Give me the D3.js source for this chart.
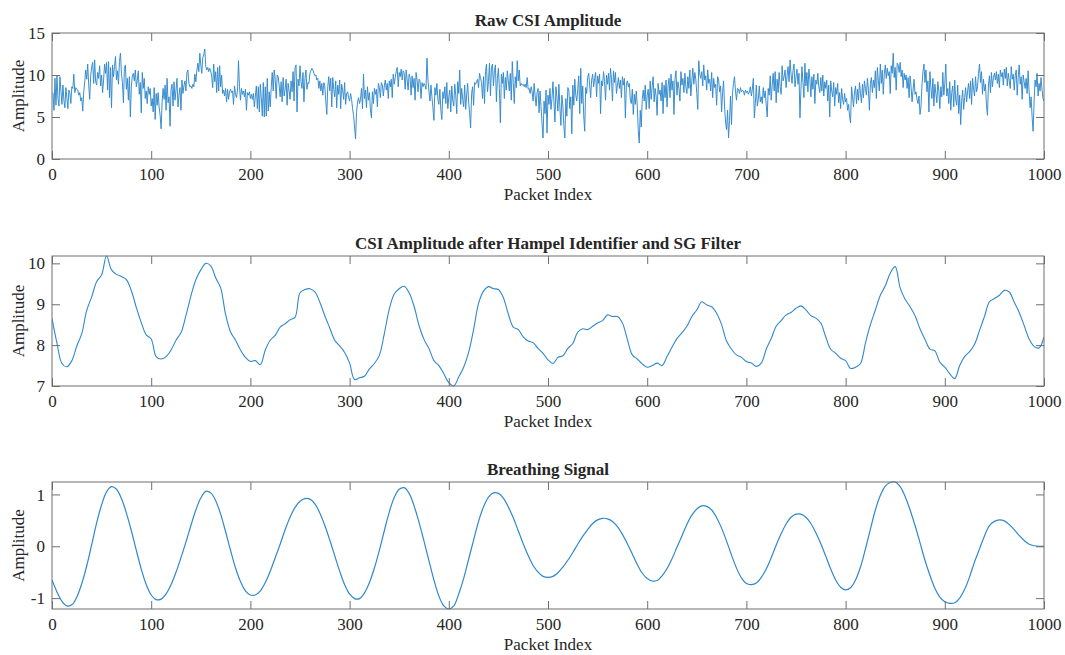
<!DOCTYPE html>
<html>
<head>
<meta charset="utf-8">
<script src="https://cdn.jsdelivr.net/npm/d3@7"></script>
<style>
  html, body { margin: 0; padding: 0; background: #fff; }
  svg { display: block; }
  text { font-family: "Liberation Serif", "Times New Roman", serif; fill: #262626; }
</style>
</head>
<body>
<svg id="chart" width="1065" height="655"></svg>
<script>
// Raw CSI amplitude, one value per packet (packets 1..1000)
const rawAmplitude = [
  7.9,5.8,9.6,6.4,9.9,7.2,6.3,9.8,8.1,6.5,8.8,7.0,6.1,8.5,7.3,6.0,8.2,7.8,6.6,8.6,
  8.4,10.1,7.9,8.5,8.3,8.2,7.6,7.9,6.9,7.3,5.7,8.0,9.2,10.6,9.5,11.3,8.8,7.1,9.9,11.0,
  11.5,9.0,11.8,9.2,8.8,10.3,9.6,11.1,8.7,10.0,7.9,9.4,11.3,10.2,11.5,8.2,11.6,7.3,10.9,6.1,
  11.2,9.8,11.0,12.2,9.4,10.5,8.9,11.6,12.6,10.2,9.1,6.7,10.8,11.2,8.3,9.6,7.0,9.8,5.0,8.7,
  9.9,10.2,9.3,10.6,8.6,9.4,10.5,7.7,9.1,5.5,10.3,8.4,9.6,7.2,8.1,6.6,8.6,7.7,8.4,6.3,
  7.2,5.6,8.5,4.7,7.8,6.4,7.9,6.2,5.2,3.6,6.8,8.4,7.1,8.8,5.8,9.6,6.7,7.4,3.9,8.3,
  8.9,6.3,9.2,7.0,8.2,9.6,6.2,7.6,8.5,5.8,9.4,7.8,8.7,9.3,8.1,10.3,10.6,9.0,8.6,8.7,
  8.4,8.9,8.6,10.1,9.2,10.5,11.4,10.4,12.6,11.2,10.2,12.1,12.4,13.1,11.0,10.6,10.9,10.4,10.8,10.5,
  9.8,8.5,11.3,9.2,10.4,7.9,10.9,8.1,11.1,8.6,10.0,7.8,8.2,7.5,8.4,6.8,8.3,7.1,8.0,8.3,
  7.9,8.1,6.5,8.7,7.7,7.3,8.2,11.7,8.6,7.0,8.4,7.7,8.1,7.4,8.3,5.8,7.9,7.6,8.0,7.2,
  7.7,7.1,7.8,6.2,7.5,8.7,6.0,8.6,5.6,8.9,7.3,5.1,9.1,5.0,8.6,5.1,9.6,5.7,8.0,6.2,
  8.5,10.3,8.1,10.6,9.5,7.2,10.0,9.8,8.8,7.4,9.2,6.8,9.7,7.5,8.3,9.5,6.4,9.0,8.1,7.1,
  9.3,8.0,10.4,6.9,10.9,11.2,5.6,9.5,8.7,11.1,9.2,8.4,10.3,6.8,9.6,10.6,8.3,9.1,9.0,10.2,
  10.5,10.8,10.6,10.2,9.9,10.0,9.4,9.6,8.4,9.3,8.1,9.0,7.6,9.1,8.7,6.9,5.3,8.6,9.8,8.1,
  9.6,6.2,9.7,8.3,7.4,9.3,6.1,8.8,7.7,9.4,6.0,8.9,8.2,7.1,9.1,6.5,7.8,8.0,7.3,6.9,
  7.8,7.1,6.0,5.2,3.8,2.4,5.5,6.8,7.3,6.6,7.1,8.4,6.0,10.1,7.2,8.2,6.1,8.6,7.0,7.9,
  5.9,4.9,8.0,6.6,8.4,7.7,8.3,6.2,9.0,8.5,7.3,9.1,8.8,7.5,8.7,9.4,8.2,9.0,7.2,9.3,
  8.6,9.5,7.3,10.1,8.9,9.7,10.4,10.9,8.6,10.3,9.8,10.7,9.4,10.5,10.2,8.3,10.6,9.5,8.2,10.1,
  9.7,7.6,9.9,8.5,9.6,7.0,10.3,9.4,8.0,9.5,9.3,7.2,9.1,8.6,9.0,8.8,8.3,12.0,9.4,8.1,
  6.9,8.8,7.4,6.1,4.6,8.5,7.6,9.0,7.1,6.5,8.3,5.8,4.7,8.0,7.2,8.6,6.6,9.1,6.0,7.4,
  8.2,5.6,8.7,7.0,6.3,8.9,7.6,5.4,9.2,7.8,10.6,6.5,8.4,7.1,6.2,8.8,5.9,7.5,9.0,6.8,
  5.4,3.7,7.8,8.6,6.4,9.1,8.9,9.2,9.5,8.5,10.2,9.6,9.1,7.2,9.8,6.6,10.4,11.3,8.0,9.2,
  11.4,7.5,10.9,11.3,8.7,10.5,11.2,6.8,9.6,10.8,8.4,4.3,10.1,9.0,10.3,7.2,9.7,8.2,10.5,9.3,
  8.1,10.2,7.0,11.6,9.1,6.6,9.8,8.5,11.7,9.3,10.6,8.7,9.0,8.8,8.9,8.6,8.9,8.5,9.7,8.3,
  8.4,7.8,8.6,8.0,6.9,9.0,7.6,6.3,7.9,8.4,5.5,8.1,6.2,4.2,2.5,6.9,5.4,8.2,3.1,7.6,
  6.5,8.4,5.9,7.2,9.2,6.8,4.4,8.6,7.3,5.7,8.9,6.1,4.0,7.6,6.3,3.9,2.5,7.2,5.1,8.5,
  8.2,6.0,7.4,3.0,8.8,6.4,9.5,7.6,6.9,8.3,9.9,5.4,10.8,6.6,8.7,5.2,3.3,8.5,7.8,9.7,
  10.2,8.8,7.3,9.4,10.1,8.6,9.6,10.3,7.4,9.9,9.0,10.1,5.4,9.3,8.7,10.4,9.2,7.0,10.0,8.9,
  10.2,8.2,10.8,9.5,6.9,10.5,9.1,10.3,7.8,8.8,9.7,8.4,9.4,7.3,9.8,8.8,9.6,4.9,8.9,9.3,
  8.6,9.0,7.0,6.6,8.3,5.3,7.7,6.5,8.1,6.3,3.4,1.9,5.8,3.8,7.1,8.2,6.9,8.8,5.9,7.6,
  8.3,6.0,9.3,7.1,8.6,9.8,6.8,8.4,7.5,5.2,9.0,7.7,8.2,6.9,9.1,5.4,8.8,7.3,9.4,6.2,
  8.7,9.6,7.3,10.1,8.2,9.3,5.3,9.5,10.5,7.6,9.2,8.4,6.9,10.4,8.8,9.6,7.9,10.2,8.6,7.8,
  9.8,8.4,10.6,7.5,9.3,10.8,8.9,10.3,9.5,7.8,5.9,11.7,10.1,9.6,10.4,8.7,11.2,9.4,9.9,8.2,
  10.6,9.0,9.5,8.1,10.3,7.3,9.6,8.5,8.9,6.4,9.8,9.4,8.0,8.7,5.6,7.9,9.3,6.2,4.4,3.5,
  5.8,2.5,4.6,7.5,4.1,7.9,9.0,9.8,8.1,7.0,8.4,8.3,7.8,8.5,8.0,8.2,8.1,7.6,8.2,7.9,
  8.1,7.7,8.0,8.6,7.5,8.3,9.6,4.9,6.6,8.8,6.3,7.1,8.7,6.8,7.4,6.6,8.5,7.3,8.1,6.4,
  5.0,8.4,7.6,9.9,7.0,8.8,10.2,8.1,10.4,6.7,9.5,7.9,10.3,8.6,7.7,11.1,9.3,9.8,10.6,8.5,
  9.9,11.0,9.2,11.8,10.1,9.0,10.5,11.3,8.6,9.8,10.7,8.9,10.2,4.9,8.4,11.0,9.1,7.3,11.4,8.7,
  10.3,8.0,10.7,9.5,7.4,9.8,8.3,10.1,6.6,9.4,8.9,10.2,8.6,7.9,9.7,8.1,10.0,7.5,9.2,8.4,
  9.4,6.9,8.8,5.0,9.3,8.1,7.4,9.1,6.3,8.5,7.7,9.0,6.7,7.9,6.0,8.4,7.1,6.5,7.8,6.8,
  7.2,5.8,6.5,5.1,4.3,8.6,7.4,6.2,8.0,8.7,6.6,8.3,7.0,9.1,7.8,6.7,8.9,7.3,9.3,8.4,
  7.6,9.6,8.2,5.8,9.0,9.7,7.9,9.4,8.5,10.5,7.2,10.9,9.3,8.1,11.3,9.0,10.6,7.7,10.1,11.2,
  9.6,10.8,9.9,10.4,7.8,11.1,10.2,12.6,9.7,10.9,8.2,11.4,11.2,10.3,11.5,9.8,10.6,8.5,10.2,9.4,
  10.0,8.4,9.7,7.3,9.9,8.6,6.8,8.2,9.5,7.7,8.0,7.1,6.6,7.5,5.3,6.2,8.8,10.4,11.3,9.1,
  10.6,8.0,9.3,5.6,10.4,8.5,7.2,9.6,6.3,8.9,7.8,6.7,9.2,8.1,6.0,8.6,7.4,10.3,7.6,9.0,
  11.3,7.5,8.4,6.6,9.2,5.8,7.9,8.7,6.2,9.4,7.0,6.4,8.8,5.4,7.6,4.1,6.9,8.2,5.9,7.3,
  8.5,6.8,8.1,9.0,7.2,9.3,6.5,9.6,8.3,7.5,9.8,8.0,8.6,10.2,11.3,9.1,10.4,7.7,9.5,8.1,
  8.9,6.4,5.2,8.8,9.9,7.9,10.3,8.6,9.7,10.2,9.4,10.4,9.0,10.1,8.5,10.6,9.8,10.3,8.8,10.7,
  9.6,10.9,8.7,10.2,9.3,8.4,11.0,9.5,10.1,8.2,9.9,10.6,7.6,9.7,11.2,8.9,9.8,7.1,10.0,9.2,
  8.4,9.6,7.8,10.5,8.0,6.1,7.4,5.0,3.3,6.8,9.4,8.6,10.2,7.5,9.0,8.1,9.7,8.3,7.2,6.9
];

// Amplitude after Hampel identifier + Savitzky-Golay filter, every 5 packets (0..1000)
const filteredAmplitude = [
  8.65,8.05,7.55,7.47,7.62,7.98,8.28,8.85,9.18,9.55,
  9.72,10.18,9.84,9.73,9.68,9.6,9.33,8.92,8.55,8.25,
  8.15,7.72,7.66,7.72,7.88,8.12,8.3,8.72,9.2,9.6,
  9.84,10.0,9.94,9.65,9.4,8.75,8.32,8.12,7.88,7.7,
  7.6,7.62,7.52,7.88,8.12,8.24,8.44,8.52,8.62,8.68,
  9.28,9.36,9.38,9.3,9.05,8.72,8.42,8.12,7.98,7.82,
  7.56,7.16,7.2,7.24,7.42,7.55,7.75,8.28,8.88,9.25,
  9.38,9.44,9.28,8.95,8.48,8.14,7.92,7.62,7.5,7.3,
  7.08,7.0,7.22,7.46,7.82,8.38,9.02,9.32,9.43,9.38,
  9.36,9.16,8.76,8.44,8.38,8.2,8.1,8.06,7.92,7.8,
  7.64,7.55,7.7,7.74,7.92,8.04,8.32,8.4,8.38,8.46,
  8.54,8.6,8.74,8.7,8.7,8.54,8.14,7.76,7.66,7.54,
  7.46,7.5,7.56,7.5,7.72,7.95,8.16,8.3,8.46,8.7,
  8.86,9.06,8.98,8.94,8.78,8.5,8.1,7.9,7.76,7.7,
  7.6,7.56,7.48,7.56,7.9,8.16,8.46,8.6,8.74,8.8,
  8.9,8.96,8.86,8.72,8.66,8.54,8.2,7.9,7.8,7.68,
  7.62,7.43,7.46,7.55,8.05,8.5,8.86,9.22,9.45,9.76,
  9.92,9.4,9.12,8.94,8.72,8.4,8.14,7.9,7.86,7.58,
  7.46,7.3,7.18,7.5,7.72,7.84,8.02,8.36,8.7,9.06,
  9.14,9.22,9.34,9.3,9.05,8.8,8.48,8.15,7.97,7.93,
  8.2
];
const filteredStep = 5;

// Extracted breathing signal, every 5 packets (0..1000)
const breathingSignal = [
  -0.65,-0.88,-1.06,-1.15,-1.13,-0.98,-0.72,-0.38,0.03,0.45,
  0.80,1.05,1.15,1.10,0.92,0.64,0.30,-0.08,-0.44,-0.74,
  -0.94,-1.03,-1.02,-0.92,-0.74,-0.50,-0.22,0.08,0.40,0.70,
  0.93,1.06,1.03,0.88,0.62,0.28,-0.08,-0.42,-0.68,-0.86,
  -0.94,-0.94,-0.86,-0.70,-0.48,-0.22,0.04,0.32,0.56,0.75,
  0.87,0.92,0.91,0.82,0.64,0.40,0.12,-0.18,-0.48,-0.74,
  -0.92,-1.01,-1.01,-0.90,-0.70,-0.42,-0.08,0.30,0.66,0.94,
  1.10,1.13,1.02,0.78,0.46,0.10,-0.28,-0.65,-0.96,-1.15,
  -1.21,-1.15,-0.92,-0.62,-0.25,0.12,0.48,0.76,0.95,1.03,
  1.02,0.93,0.76,0.55,0.30,0.05,-0.18,-0.37,-0.50,-0.58,
  -0.60,-0.58,-0.51,-0.40,-0.27,-0.12,0.04,0.19,0.32,0.44,
  0.51,0.54,0.53,0.48,0.38,0.23,0.05,-0.15,-0.35,-0.52,
  -0.62,-0.67,-0.66,-0.57,-0.43,-0.24,-0.02,0.20,0.42,0.60,
  0.72,0.78,0.77,0.70,0.55,0.35,0.10,-0.17,-0.42,-0.61,
  -0.72,-0.74,-0.71,-0.60,-0.44,-0.22,0.02,0.24,0.43,0.56,
  0.62,0.62,0.56,0.44,0.26,0.05,-0.19,-0.44,-0.65,-0.79,
  -0.84,-0.80,-0.65,-0.40,-0.05,0.33,0.70,0.98,1.16,1.23,
  1.24,1.15,0.96,0.70,0.40,0.07,-0.27,-0.56,-0.81,-0.98,
  -1.07,-1.10,-1.09,-1.00,-0.83,-0.59,-0.30,-0.05,0.20,0.40,
  0.48,0.51,0.49,0.42,0.32,0.21,0.11,0.04,0.01,0.00,
  0.00
];
const breathingStep = 5;

const xTicks = [0, 100, 200, 300, 400, 500, 600, 700, 800, 900, 1000];
const rawYTicks = [0, 5, 10, 15];
const filteredYTicks = [7, 8, 9, 10];
const breathingYTicks = [-1, 0, 1];

const titles = ["Raw CSI Amplitude", "CSI Amplitude after Hampel Identifier and SG Filter", "Breathing Signal"];
const xLabel = "Packet Index";
const yLabel = "Amplitude";

// ---- drawing ----
const svg = d3.select("#chart");
const left = 52, right = 1044;
const lineColor = "#3088cc";
const frameColor = "#6f6f6f";
const tickLen = 8;
const fontSize = 17;
const plainNumber = d => String(d);

const panels = [
  { top: 33, bottom: 159, title: titles[0], yTicks: rawYTicks, yDomain: [0, 15],
    points: rawAmplitude.map((v, i) => [i + 1, v]), curve: d3.curveLinear, width: 0.95 },
  { top: 256, bottom: 386, title: titles[1], yTicks: filteredYTicks, yDomain: d3.extent(filteredAmplitude),
    points: filteredAmplitude.map((v, i) => [i * filteredStep, v]), curve: d3.curveCatmullRom, width: 1.1 },
  { top: 482, bottom: 609, title: titles[2], yTicks: breathingYTicks, yDomain: d3.extent(breathingSignal),
    points: breathingSignal.map((v, i) => [i * breathingStep, v]), curve: d3.curveCatmullRom, width: 1.2 }
];

const x = d3.scaleLinear().domain([0, 1000]).range([left, right]);
const midX = (left + right) / 2;

panels.forEach(p => {
  const y = d3.scaleLinear().domain(p.yDomain).range([p.bottom, p.top]);
  const g = svg.append("g");

  // clip to the axes box
  const clipId = "clip" + p.top;
  svg.append("clipPath").attr("id", clipId)
    .append("rect").attr("x", left).attr("y", p.top - 1)
    .attr("width", right - left).attr("height", p.bottom - p.top + 2);

  // data line
  g.append("path")
    .datum(p.points)
    .attr("clip-path", `url(#${clipId})`)
    .attr("fill", "none")
    .attr("stroke", lineColor)
    .attr("stroke-width", p.width)
    .attr("stroke-linejoin", "round")
    .attr("d", d3.line().x(d => x(d[0])).y(d => y(d[1])).curve(p.curve));

  // axes with inward ticks on all four sides
  const bottomAxis = d3.axisBottom(x).tickValues(xTicks).tickFormat(plainNumber)
    .tickSize(-tickLen).tickPadding(13).tickSizeOuter(0);
  const gb = g.append("g").attr("transform", `translate(0,${p.bottom})`).call(bottomAxis);
  const topAxis = d3.axisTop(x).tickValues(xTicks).tickSize(-tickLen).tickFormat("").tickSizeOuter(0);
  const gt = g.append("g").attr("transform", `translate(0,${p.top})`).call(topAxis);
  const leftAxis = d3.axisLeft(y).tickValues(p.yTicks).tickFormat(plainNumber)
    .tickSize(-tickLen).tickPadding(7).tickSizeOuter(0);
  const gl = g.append("g").attr("transform", `translate(${left},0)`).call(leftAxis);
  const rightAxis = d3.axisRight(y).tickValues(p.yTicks).tickSize(-tickLen).tickFormat("").tickSizeOuter(0);
  const gr = g.append("g").attr("transform", `translate(${right},0)`).call(rightAxis);

  [gb, gt, gl, gr].forEach(a => {
    a.select(".domain").remove();
    a.selectAll(".tick line").attr("stroke", frameColor).attr("stroke-width", 1);
    a.selectAll(".tick text")
      .attr("font-family", '"Liberation Serif", "Times New Roman", serif')
      .attr("font-size", fontSize).attr("fill", "#262626");
  });
  gb.selectAll(".tick text").attr("dy", null).attr("y", 21).attr("dominant-baseline", "alphabetic");
  gl.selectAll(".tick text").attr("dy", "0.33em");

  // axes box
  g.append("rect")
    .attr("x", left).attr("y", p.top)
    .attr("width", right - left).attr("height", p.bottom - p.top)
    .attr("fill", "none").attr("stroke", frameColor).attr("stroke-width", 1);

  // title
  g.append("text").attr("x", midX).attr("y", p.top - 7)
    .attr("text-anchor", "middle").attr("font-weight", "bold").attr("font-size", fontSize)
    .text(p.title);

  // x label
  g.append("text").attr("x", midX).attr("y", p.bottom + 41)
    .attr("text-anchor", "middle").attr("font-size", fontSize).attr("fill", "#333")
    .text(xLabel);

  // y label
  g.append("text")
    .attr("transform", `translate(24,${(p.top + p.bottom) / 2}) rotate(-90)`)
    .attr("text-anchor", "middle").attr("font-size", fontSize).attr("fill", "#333")
    .text(yLabel);
});
</script>
</body>
</html>
